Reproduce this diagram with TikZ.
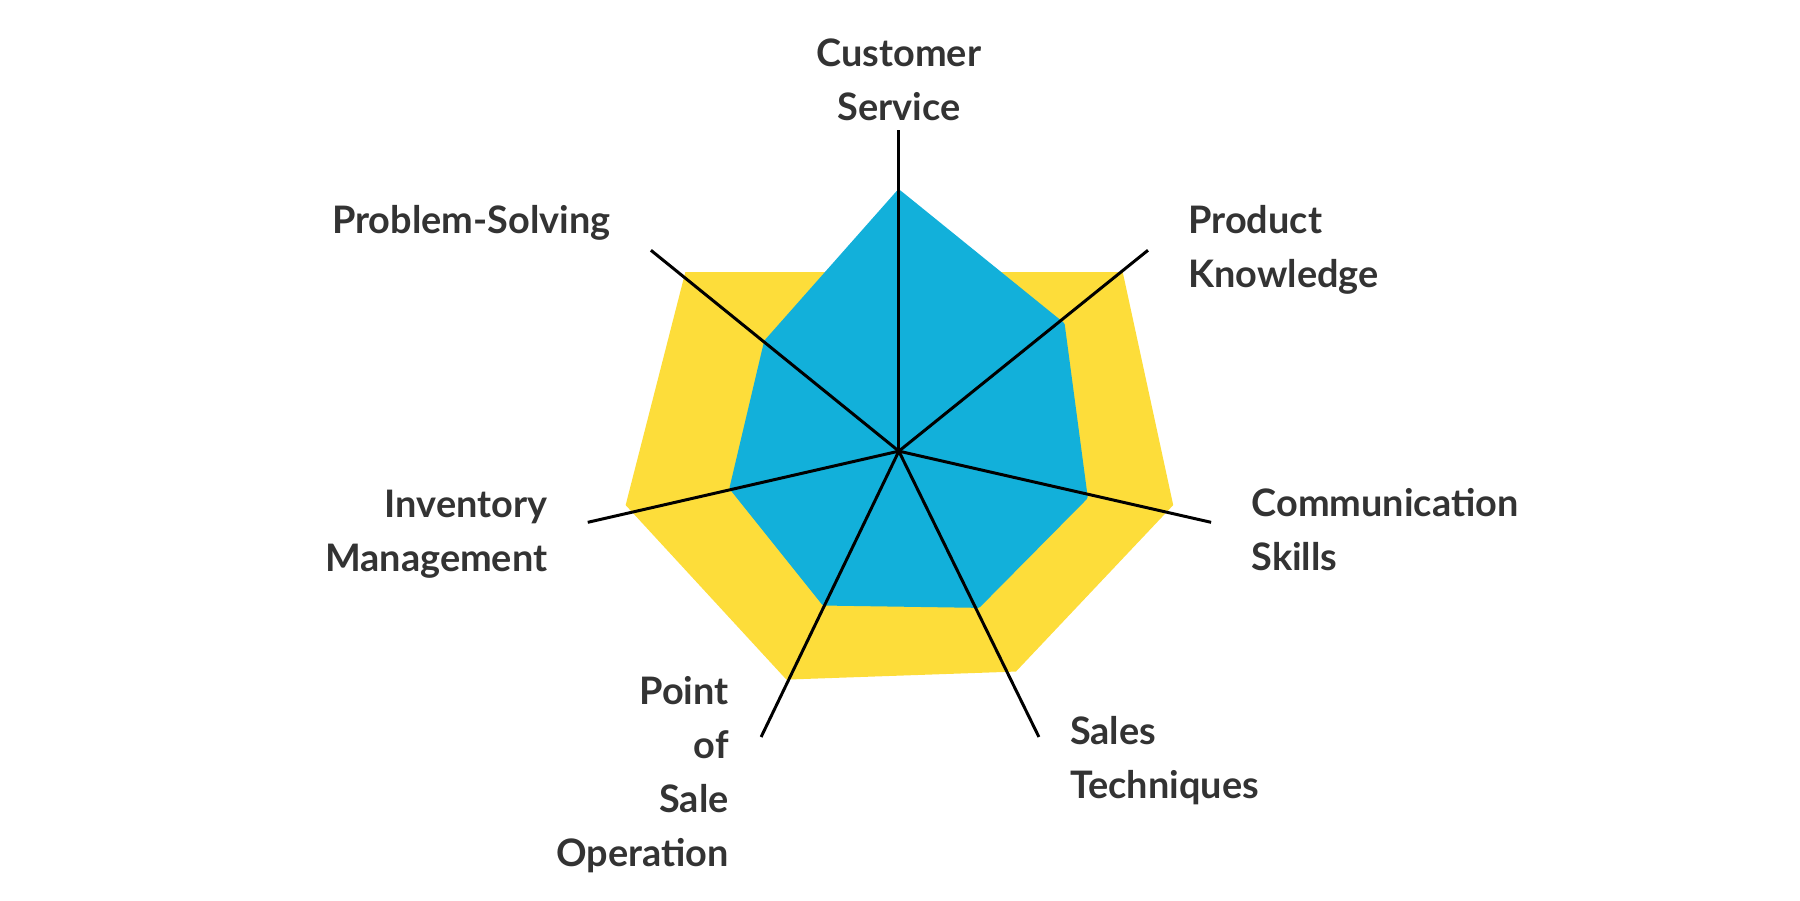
\documentclass[tikz,border=0pt]{standalone}
\usepackage{fontspec}
\setmainfont{Lato}
\definecolor{ylw}{HTML}{FDDD3A}
\definecolor{blu}{HTML}{12B0DA}
\definecolor{txt}{HTML}{333333}
\begin{document}
\begin{tikzpicture}[x=1pt,y=-1pt,
  lbl/.style={inner sep=0pt,text=txt,font=\fontsize{33}{47}\selectfont\bfseries},
  axis/.style={line width=2.6pt,black}]
\useasboundingbox (0,0) rectangle (1568,784);
\coordinate (O) at (783,393);
\fill[ylw] (783,237) -- (978,237) -- (1022,440) -- (885,585) -- (685,592) -- (545,440) -- (597,237) -- cycle;
\filldraw[blu,line width=5pt,line join=round] (783,168) -- (925,283) -- (945,433) -- (852,527) -- (718,525) -- (638,425) -- (668,298) -- cycle;
\coordinate (a1) at (783,113);
\coordinate (a2) at (1000,218);
\coordinate (a3) at (1055,455);
\coordinate (a4) at (905,642);
\coordinate (a5) at (663,642);
\coordinate (a6) at (512,455);
\coordinate (a7) at (567,218);
\foreach \i in {1,...,7} \draw[axis] (O) -- (a\i);
\node[lbl,anchor=north,align=center] (cs) at (783,34) {Customer\\Service};
\node[lbl,anchor=north west,align=left] (pk) at (1035,179) {Product\\Knowledge};
\node[lbl,anchor=north west,align=left] (cm) at (1090,425) {Communication\\Skills};
\node[lbl,anchor=north west,align=left] (st) at (932,624) {Sales\\Techniques};
\node[lbl,anchor=north east,align=right] (ps) at (635,589) {Point\\of\\Sale\\Operation};
\node[lbl,anchor=north east,align=right] (im) at (477,427) {Inventory\\Management};
\node[lbl,anchor=north east,align=right] (pr) at (532,179) {Problem-Solving};
\end{tikzpicture}
\end{document}
